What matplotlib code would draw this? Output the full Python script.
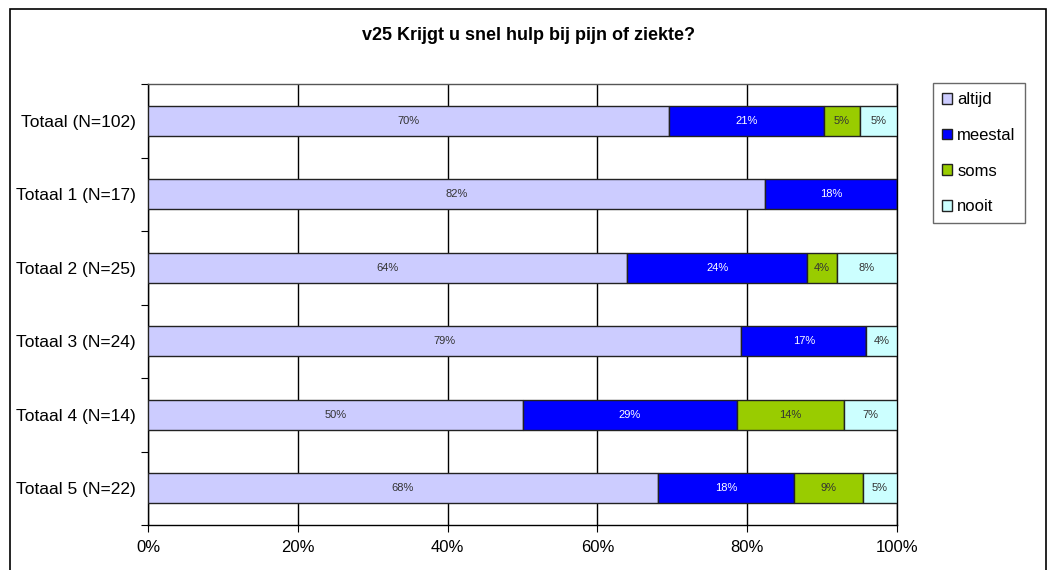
import numpy as np
import matplotlib.pyplot as plt
from matplotlib.patches import Rectangle

plt.rcParams['font.family'] = ['Liberation Sans', 'DejaVu Sans']

categories = ['Totaal (N=102)', 'Totaal 1 (N=17)', 'Totaal 2 (N=25)',
              'Totaal 3 (N=24)', 'Totaal 4 (N=14)', 'Totaal 5 (N=22)']
series = ['altijd', 'meestal', 'soms', 'nooit']
altijd = [69.6, 82.4, 64.0, 79.2, 50.0, 68.1]
meestal = [20.6, 17.6, 24.0, 16.7, 28.6, 18.2]
soms = [4.9, 0.0, 4.0, 0.0, 14.3, 9.1]
nooit = [4.9, 0.0, 8.0, 4.1, 7.1, 4.6]
colors = ['#CCCCFF', '#0000FF', '#99CC00', '#CCFFFF']
text_colors = ['#333333', 'white', '#333333', '#333333']

fig = plt.figure(figsize=(10.53, 5.70), dpi=100)
fig.patches.append(Rectangle((10 / 1053, -0.1), 1036 / 1053, 1.1 - 9 / 570,
                             transform=fig.transFigure, fill=False,
                             edgecolor='black', linewidth=1.2))
ax = fig.add_axes([148 / 1053, 1 - 525 / 570, 749 / 1053, 441 / 570])

y = np.arange(len(categories))
left = np.zeros(len(categories))
for name, vals, col, tcol in zip(series, [altijd, meestal, soms, nooit], colors, text_colors):
    vals = np.array(vals)
    ax.barh(y, vals, left=left, height=0.41, color=col, edgecolor='#222222',
            linewidth=1, label=name, zorder=3)
    for yi, l, v in zip(y, left, vals):
        if v > 0:
            ax.text(l + v / 2, yi, f'{v:.0f}%', ha='center', va='center',
                    fontsize=8, color=tcol, zorder=4)
    left += vals

ax.set_xlim(0, 100)
ax.set_ylim(len(categories) - 0.5, -0.5)
ax.set_xticks(np.arange(0, 101, 20))
ax.set_xticklabels([f'{t}%' for t in range(0, 101, 20)], fontsize=12)
ax.xaxis.grid(True, color='black', linewidth=1, zorder=0)
ax.set_yticks(np.arange(-0.5, len(categories), 1))
ax.set_yticklabels([])
ax.set_yticks(y, minor=True)
ax.set_yticklabels(categories, minor=True, fontsize=12.5)
ax.tick_params(axis='y', which='minor', length=0, pad=9)
ax.tick_params(axis='y', which='major', length=5, direction='out')
ax.tick_params(axis='x', length=5, direction='out', pad=6)
for s in ax.spines.values():
    s.set_linewidth(1)
ax.spines['top'].set_color('#555555')

fig.text(528 / 1053, 1 - 36 / 570,
         'v25 Krijgt u snel hulp bij pijn of ziekte?',
         ha='center', va='center', fontsize=13, fontweight='bold')

leg = fig.legend(loc='upper left', bbox_to_anchor=(933 / 1053, 1 - 83 / 570),
                 fontsize=12, frameon=True, fancybox=False, handlelength=0.6,
                 handleheight=0.6, handletextpad=0.3, labelspacing=1.24,
                 borderpad=0.55, borderaxespad=0)
leg.get_frame().set_edgecolor('#444444')
leg.get_frame().set_linewidth(1)

fig.savefig('out.png', dpi=100)
